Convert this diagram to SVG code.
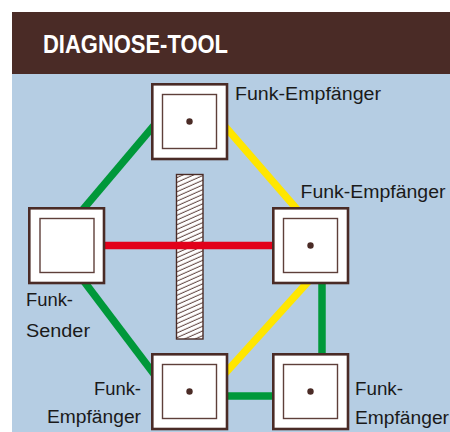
<svg xmlns="http://www.w3.org/2000/svg" width="450" height="432" viewBox="0 0 450 432">
<style>
.lbl{font-family:"Liberation Sans",Arial,sans-serif;font-size:17.6px;fill:#1a1a1a}
.outer{fill:#fff;stroke:#4a2b26;stroke-width:2.6}
.inner{fill:#fff;stroke:#5e3f3a;stroke-width:1.4}
.dot{fill:#4a2b26}
.g{stroke:#00983a;stroke-width:7.5;fill:none}
.y{stroke:#ffe600;stroke-width:7.5;fill:none}
.r{stroke:#e2001a;stroke-width:7.5;fill:none}
</style>
<defs>
<pattern id="hatch" patternUnits="userSpaceOnUse" width="12" height="4.3" patternTransform="rotate(-24)">
<line x1="0" y1="2" x2="12" y2="2" stroke="#4a2b26" stroke-width="0.9"/>
</pattern>
</defs>
<rect x="0" y="0" width="450" height="432" fill="#fff"/>
<rect x="12" y="12" width="438" height="62" fill="#4a2b26"/>
<rect x="12" y="74" width="438" height="358" fill="#b5cde3"/>
<text x="43" y="53" font-family="'Liberation Sans',Arial,sans-serif" font-weight="bold" font-size="25.5" fill="#fff" textLength="185" lengthAdjust="spacingAndGlyphs">DIAGNOSE-TOOL</text>

<g id="connectors">
<line class="g" x1="75" y1="218.8" x2="160" y2="118.4"/>
<line class="y" x1="220" y1="120.6" x2="304" y2="217.4"/>
<line class="g" x1="79" y1="274.7" x2="160" y2="381.9"/>
<line class="y" x1="315" y1="274" x2="220" y2="379"/>
<line class="g" x1="322" y1="280" x2="322" y2="358"/>
<line class="g" x1="225" y1="396" x2="276" y2="396"/>
<g id="barrier">
<rect x="176.5" y="174.5" width="26.5" height="164.5" fill="#fff"/>
<rect x="176.5" y="174.5" width="26.5" height="164.5" fill="url(#hatch)" stroke="#4a2b26" stroke-width="1.4"/>
</g>
<line class="r" x1="100" y1="245.5" x2="278" y2="245.5"/>
</g>

<g id="node-top" transform="translate(151,83)">
<rect class="outer" x="1.3" y="1.3" width="74.7" height="74.7"/>
<rect class="inner" x="11.5" y="11.5" width="54" height="54"/>
<circle class="dot" cx="38.5" cy="38.5" r="3.2"/>
</g>
<g id="node-sender" transform="translate(28,207)">
<rect class="outer" x="1.3" y="1.3" width="74.7" height="74.7"/>
<rect class="inner" x="12" y="11.5" width="54" height="54"/>
</g>
<g id="node-right" transform="translate(272,207)">
<rect class="outer" x="1.3" y="1.3" width="74.7" height="74.7"/>
<rect class="inner" x="11.5" y="11.5" width="54" height="54"/>
<circle class="dot" cx="38.5" cy="38.5" r="3.2"/>
</g>
<g id="node-bottom-left" transform="translate(151,353)">
<rect class="outer" x="1.3" y="1.3" width="74.7" height="74.7"/>
<rect class="inner" x="11.5" y="11.5" width="54" height="54"/>
<circle class="dot" cx="38.5" cy="38.5" r="3.2"/>
</g>
<g id="node-bottom-right" transform="translate(272,353)">
<rect class="outer" x="1.3" y="1.3" width="74.7" height="74.7"/>
<rect class="inner" x="11.5" y="11.5" width="54" height="54"/>
<circle class="dot" cx="38.5" cy="38.5" r="3.2"/>
</g>

<g id="labels">
<text class="lbl" x="235" y="100" textLength="146" lengthAdjust="spacingAndGlyphs">Funk-Empfänger</text>
<text class="lbl" x="300.5" y="198" textLength="145" lengthAdjust="spacingAndGlyphs">Funk-Empfänger</text>
<text class="lbl" x="26" y="306" textLength="47" lengthAdjust="spacingAndGlyphs">Funk-</text>
<text class="lbl" x="26" y="336.5" textLength="64" lengthAdjust="spacingAndGlyphs">Sender</text>
<text class="lbl" x="94" y="395" textLength="47" lengthAdjust="spacingAndGlyphs">Funk-</text>
<text class="lbl" x="47" y="423" textLength="94" lengthAdjust="spacingAndGlyphs">Empfänger</text>
<text class="lbl" x="355" y="395" textLength="48" lengthAdjust="spacingAndGlyphs">Funk-</text>
<text class="lbl" x="355" y="424" textLength="94" lengthAdjust="spacingAndGlyphs">Empfänger</text>
</g>
</svg>
